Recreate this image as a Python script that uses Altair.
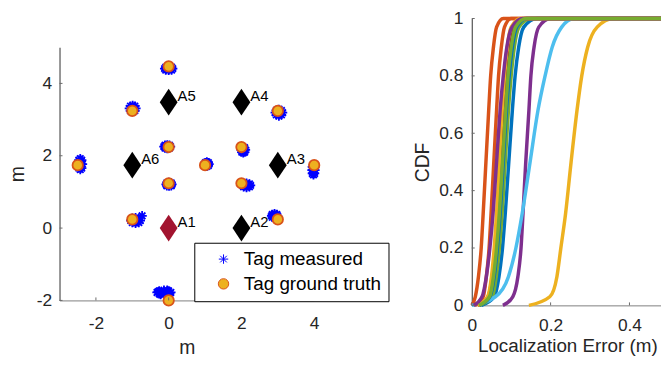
import altair as alt
import pandas as pd

FONT = "Liberation Sans"

# ---------------- left panel: positions (m) ----------------
anchor_x = [0, 2, 3, 2, 0, -1]
anchor_y = [0, 0, 1.74, 3.48, 3.48, 1.74]
anchor_label = ["A1", "A2", "A3", "A4", "A5", "A6"]
anchor_color = ["#A2142F", "#000000", "#000000", "#000000", "#000000", "#000000"]

truth_x = [0, -1, 3, 0, 2, -2.5, 1, 4, 0, 2, -1, 3, 0]
truth_y = [4.47, 3.24, 3.24, 2.24, 2.24, 1.74, 1.74, 1.74, 1.24, 1.24, 0.24, 0.24, -2.0]

measured_x = [
    0.00, 0.11, -0.11, 0.00, 0.00, 0.08, -0.08, 0.08, -0.08, 0.05, -0.05, 0.00, 0.00,
    -0.99, -0.90, -1.08, -0.99, -0.99, -0.93, -1.05, -0.93, -1.05, -0.95, -1.03, -0.99, -0.99,
    3.03, 3.13, 2.93, 3.03, 3.03, 3.10, 2.96, 3.10, 2.96, 3.08, 2.98, 3.03, 3.03,
    -0.04, 0.05, -0.13, -0.04, -0.04, 0.02, -0.10, 0.02, -0.10, 0.00, -0.08, -0.04, -0.04,
    2.05, 2.11, 1.99, 2.05, 2.05, 2.09, 2.01, 2.09, 2.01, 2.08, 2.02, 2.05, 2.05,
    -2.43, -2.37, -2.49, -2.43, -2.43, -2.39, -2.47, -2.39, -2.47, -2.40, -2.46, -2.43, -2.43,
    1.05, 1.11, 0.99, 1.05, 1.05, 1.09, 1.01, 1.09, 1.01, 1.08, 1.02, 1.05, 1.05,
    3.98, 4.02, 3.94, 3.98, 3.98, 4.01, 3.95, 4.01, 3.95, 4.00, 3.96, 3.98, 3.98,
    0.01, 0.09, -0.07, 0.01, 0.01, 0.07, -0.05, 0.07, -0.05, 0.05, -0.03, 0.01, 0.01,
    2.14, 2.25, 2.03, 2.14, 2.14, 2.22, 2.06, 2.22, 2.06, 2.19, 2.09, 2.14, 2.14,
    -0.91, -0.78, -1.04, -0.91, -0.91, -0.82, -1.00, -0.82, -1.00, -0.85, -0.97, -0.91, -0.91, -0.73,
    2.91, 2.99, 2.83, 2.91, 2.91, 2.97, 2.85, 2.97, 2.85, 2.95, 2.87, 2.91, 2.91,
    -0.13, 0.06, -0.32, -0.13, -0.13, 0.00, -0.26, 0.00, -0.26, -0.04, -0.22, -0.04, -0.22, 0.03, -0.29,
]
measured_y = [
    4.41, 4.41, 4.41, 4.46, 4.36, 4.45, 4.45, 4.37, 4.37, 4.41, 4.41, 4.44, 4.38,
    3.31, 3.31, 3.31, 3.39, 3.23, 3.37, 3.37, 3.25, 3.25, 3.31, 3.31, 3.35, 3.27,
    3.19, 3.19, 3.19, 3.28, 3.10, 3.25, 3.25, 3.13, 3.13, 3.19, 3.19, 3.24, 3.14,
    2.25, 2.25, 2.25, 2.30, 2.20, 2.29, 2.29, 2.21, 2.21, 2.25, 2.25, 2.28, 2.22,
    2.16, 2.16, 2.16, 2.24, 2.08, 2.22, 2.22, 2.10, 2.10, 2.16, 2.16, 2.20, 2.12,
    1.77, 1.77, 1.77, 1.92, 1.62, 1.88, 1.88, 1.66, 1.66, 1.77, 1.77, 1.84, 1.70,
    1.77, 1.77, 1.77, 1.83, 1.71, 1.81, 1.81, 1.73, 1.73, 1.77, 1.77, 1.80, 1.74,
    1.60, 1.60, 1.60, 1.73, 1.47, 1.69, 1.69, 1.51, 1.51, 1.60, 1.60, 1.66, 1.54,
    1.21, 1.21, 1.21, 1.26, 1.16, 1.25, 1.25, 1.17, 1.17, 1.21, 1.21, 1.24, 1.18,
    1.18, 1.18, 1.18, 1.24, 1.12, 1.22, 1.22, 1.14, 1.14, 1.18, 1.18, 1.21, 1.15,
    0.21, 0.21, 0.21, 0.29, 0.13, 0.27, 0.27, 0.15, 0.15, 0.21, 0.21, 0.25, 0.17, 0.34,
    0.34, 0.34, 0.34, 0.40, 0.28, 0.38, 0.38, 0.30, 0.30, 0.34, 0.34, 0.37, 0.31,
    -1.78, -1.78, -1.78, -1.72, -1.84, -1.74, -1.74, -1.82, -1.82, -1.78, -1.78, -1.72, -1.84, -1.80, -1.76,
]
left_ticks = [-2, 0, 2, 4]
series_names = ["Tag measured", "Tag ground truth"]

# ---------------- right panel: CDF curves ----------------
cdf_levels = [0, 0.03, 0.1, 0.2, 0.32, 0.5, 0.68, 0.8, 0.9, 0.97, 1.0, 1.0]
curve_colors = ["#0072BD", "#D95319", "#EDB120", "#7E2F8E", "#77AC30", "#4DBEEE",
                "#A2142F", "#0072BD", "#D95319", "#EDB120", "#7E2F8E", "#77AC30"]
curve_x = [
    [0.025, 0.057, 0.069, 0.078, 0.085, 0.094, 0.103, 0.110, 0.119, 0.132, 0.165, 0.485],
    [0.000, 0.009, 0.017, 0.024, 0.029, 0.036, 0.043, 0.048, 0.055, 0.063, 0.080, 0.485],
    [0.145, 0.198, 0.216, 0.226, 0.238, 0.252, 0.267, 0.279, 0.294, 0.318, 0.360, 0.485],
    [0.079, 0.104, 0.117, 0.125, 0.130, 0.137, 0.145, 0.150, 0.158, 0.170, 0.200, 0.485],
    [0.020, 0.052, 0.062, 0.070, 0.077, 0.085, 0.093, 0.100, 0.108, 0.120, 0.150, 0.485],
    [0.000, 0.060, 0.093, 0.112, 0.128, 0.148, 0.168, 0.186, 0.204, 0.228, 0.260, 0.485],
    [0.015, 0.041, 0.052, 0.060, 0.067, 0.075, 0.083, 0.090, 0.098, 0.109, 0.135, 0.485],
    [0.020, 0.046, 0.057, 0.065, 0.072, 0.080, 0.088, 0.095, 0.103, 0.114, 0.140, 0.485],
    [0.008, 0.029, 0.037, 0.044, 0.049, 0.056, 0.063, 0.068, 0.075, 0.083, 0.100, 0.485],
    [0.015, 0.040, 0.050, 0.057, 0.063, 0.070, 0.077, 0.083, 0.090, 0.100, 0.125, 0.485],
    [0.005, 0.026, 0.037, 0.046, 0.054, 0.063, 0.072, 0.080, 0.089, 0.102, 0.130, 0.485],
    [0.018, 0.045, 0.055, 0.063, 0.070, 0.078, 0.086, 0.092, 0.100, 0.111, 0.138, 0.485],
]
right_xticks = [0, 0.2, 0.4]
right_yticks = [0, 0.2, 0.4, 0.6, 0.8, 1]

# ---------------- tables ----------------
tags = pd.concat([
    pd.DataFrame({"x": measured_x, "y": measured_y, "series": series_names[0]}),
    pd.DataFrame({"x": truth_x, "y": truth_y, "series": series_names[1]}),
], ignore_index=True)
anchors = pd.DataFrame({"x": anchor_x, "y": anchor_y, "label": anchor_label, "c": anchor_color})
curves = pd.concat([
    pd.DataFrame({"x": xs, "cdf": cdf_levels, "curve": i, "lc": curve_colors[i]})
    for i, xs in enumerate(curve_x)
], ignore_index=True)

ASTER = "M0,-1L0,1M-1,0L1,0M-0.7,-0.7L0.7,0.7M-0.7,0.7L0.7,-0.7"
DIAMOND = "M0,-1.5L1,0L0,1.5L-1,0Z"
TICKC = "#6a6a6a"

LW, LH = 257, 284.5
RW, RH = 193, 289.5

xs_l = alt.Scale(domain=[-3, 4], nice=False, zero=False)
ys_l = alt.Scale(domain=[-2, 5], nice=False, zero=False, range=[LH, 29])

lab_expr = "'' + datum.value"
ax_lx = alt.Axis(values=left_ticks, title="m", labelExpr=lab_expr, labelFlush=False,
                 labelPadding=14, titlePadding=7.5, domainColor="#808080")
ax_ly = alt.Axis(values=left_ticks, title="m", labelExpr=lab_expr,
                 labelPadding=8, titlePadding=9, domainColor="#303030")

leg = alt.Legend(title=None, orient="none", legendX=136, legendY=226.3,
                 fillColor="white", strokeColor="black", padding=7,
                 labelFont=FONT, labelFontSize=19, labelColor="#000000",
                 symbolOffset=13, labelOffset=11, rowPadding=5,
                 symbolStrokeWidth=1)

tag_layer = alt.Chart(tags).mark_point(filled=False, opacity=1, strokeWidth=1.8).encode(
    x=alt.X("x:Q", scale=xs_l, axis=ax_lx),
    y=alt.Y("y:Q", scale=ys_l, axis=ax_ly),
    shape=alt.Shape("series:N", scale=alt.Scale(domain=series_names, range=[ASTER, "circle"]), legend=leg),
    stroke=alt.Stroke("series:N", scale=alt.Scale(domain=series_names, range=["#0000FF", "#D95319"]), legend=leg),
    fill=alt.Fill("series:N", scale=alt.Scale(domain=series_names, range=["transparent", "#EDB120"]), legend=leg),
    size=alt.Size("series:N", scale=alt.Scale(domain=series_names, range=[90, 110]), legend=leg),
)

anchor_layer = alt.Chart(anchors).mark_point(shape=DIAMOND, filled=True, size=324, opacity=1).encode(
    x=alt.X("x:Q", scale=xs_l),
    y=alt.Y("y:Q", scale=ys_l),
    color=alt.Color("c:N", scale=None, legend=None),
)
anchor_text = alt.Chart(anchors).mark_text(align="left", baseline="middle", dx=9, dy=-6,
                                           fontSize=15, font=FONT, color="#000000").encode(
    x=alt.X("x:Q", scale=xs_l),
    y=alt.Y("y:Q", scale=ys_l),
    text="label:N",
)
lxt = alt.Chart(pd.DataFrame({"x": left_ticks})).mark_rule(color=TICKC, strokeWidth=1).encode(
    x=alt.X("x:Q", scale=xs_l), y=alt.value(LH), y2=alt.value(LH - 3))
lyt = alt.Chart(pd.DataFrame({"y": left_ticks})).mark_rule(color=TICKC, strokeWidth=1).encode(
    y=alt.Y("y:Q", scale=ys_l), x=alt.value(0), x2=alt.value(3))

left = alt.layer(tag_layer, anchor_layer, anchor_text, lxt, lyt).properties(width=LW, height=LH)

xs_r = alt.Scale(domain=[0, 0.485], nice=False, zero=False)
ys_r = alt.Scale(domain=[0, 1], nice=False, zero=False)
ax_rx = alt.Axis(values=right_xticks, title="Localization Error (m)", labelExpr=lab_expr,
                 labelFlush=False, labelPadding=11, titlePadding=3, titleFontSize=19,
                 domainColor="#808080")
ax_ry = alt.Axis(values=right_yticks, title="CDF", labelExpr=lab_expr,
                 labelPadding=9, titlePadding=6, domainColor="#303030")

lines = alt.Chart(curves).mark_line(strokeWidth=3.5, interpolate="monotone").encode(
    x=alt.X("x:Q", scale=xs_r, axis=ax_rx),
    y=alt.Y("cdf:Q", scale=ys_r, axis=ax_ry),
    color=alt.Color("lc:N", scale=None, legend=None),
    detail="curve:N",
)
rxt = alt.Chart(pd.DataFrame({"x": right_xticks})).mark_rule(color=TICKC, strokeWidth=1).encode(
    x=alt.X("x:Q", scale=xs_r), y=alt.value(RH), y2=alt.value(RH - 3))
ryt = alt.Chart(pd.DataFrame({"cdf": right_yticks})).mark_rule(color=TICKC, strokeWidth=1).encode(
    y=alt.Y("cdf:Q", scale=ys_r), x=alt.value(0), x2=alt.value(3))

right = alt.layer(lines, rxt, ryt).properties(width=RW, height=RH)

chart = alt.hconcat(left, right, spacing=159, bounds="flush").properties(
    autosize=alt.AutoSizeParams(type="none"),
    padding={"left": 52, "top": 9, "right": 607, "bottom": 340},
).configure(font=FONT).configure_view(stroke=None).configure_axis(
    grid=False, ticks=False, labelFont=FONT, labelFontSize=17.5, labelColor="#262626",
    titleFont=FONT, titleFontSize=19.5, titleFontWeight="normal", titleColor="#262626",
    domainWidth=1,
)

chart.save("out.html", embed_options={"renderer": "svg", "actions": False})
